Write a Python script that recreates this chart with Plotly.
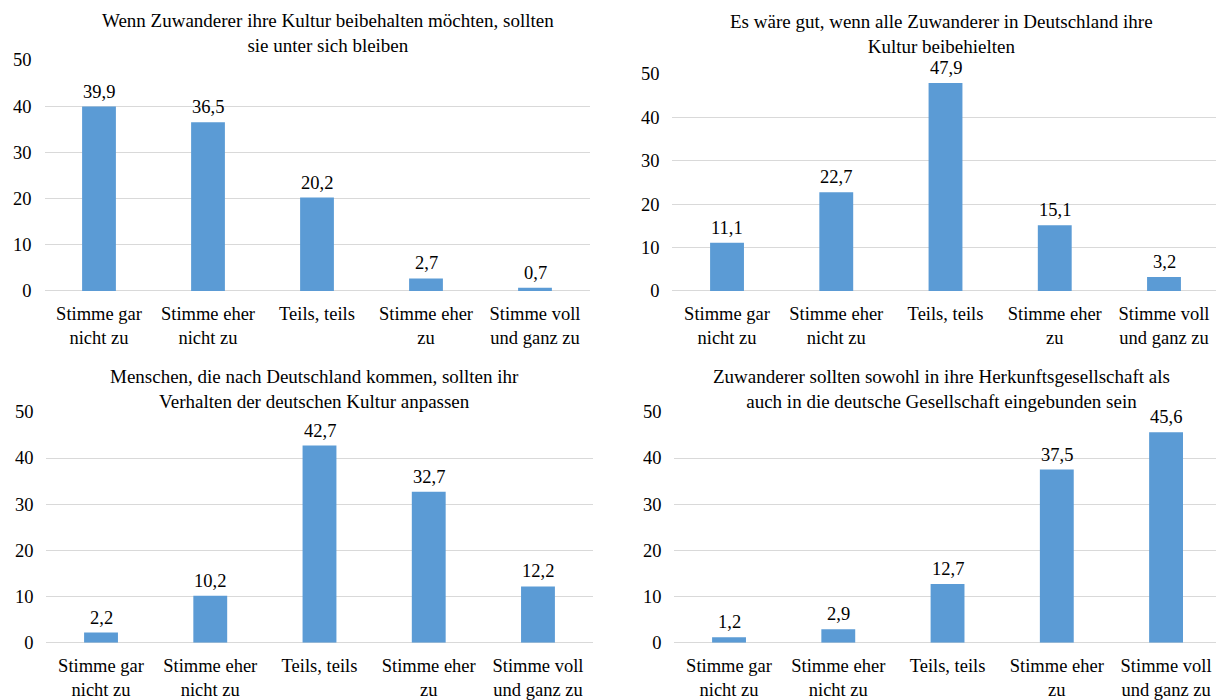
import plotly.graph_objects as go

# Antwortkategorien (x-Achse)
categories = [
    "Stimme gar<br>nicht zu",
    "Stimme eher<br>nicht zu",
    "Teils, teils",
    "Stimme eher<br>zu",
    "Stimme voll<br>und ganz zu",
]

# Aussagen (Diagrammtitel)
title_tl = "Wenn Zuwanderer ihre Kultur beibehalten möchten, sollten<br>sie unter sich bleiben"
title_tr = "Es wäre gut, wenn alle Zuwanderer in Deutschland ihre<br>Kultur beibehielten"
title_bl = "Menschen, die nach Deutschland kommen, sollten ihr<br>Verhalten der deutschen Kultur anpassen"
title_br = "Zuwanderer sollten sowohl in ihre Herkunftsgesellschaft als<br>auch in die deutsche Gesellschaft eingebunden sein"

# Anteile in Prozent
values_tl = [39.9, 36.5, 20.2, 2.7, 0.7]
values_tr = [11.1, 22.7, 47.9, 15.1, 3.2]
values_bl = [2.2, 10.2, 42.7, 32.7, 12.2]
values_br = [1.2, 2.9, 12.7, 37.5, 45.6]

y_ticks = [0, 10, 20, 30, 40, 50]

W, H = 1216, 700
FONT = "'Liberation Serif', 'Times New Roman', Times, serif"
BAR_COLOR = "#5B9BD5"
GRID = "#D9D9D9"
FS = 18.5
FS_TITLE = 19


def px_x(p):
    return p / W


def px_y(p):
    return 1 - p / H


panels = [
    # x-Bereich in px, y-Pixel von 0 und 50, Ende des x-Bereichs, Titelmitte in px
    dict(vals=values_tl, title=title_tl, xd=(44.5, 589.5), y0=291.3, y50=51.8, xend=4.5, tx=328, ty=24),
    dict(vals=values_tr, title=title_tr, xd=(672.4, 1216), y0=291.3, y50=66.2, xend=4.476, tx=941, ty=24.5),
    dict(vals=values_bl, title=title_bl, xd=(46.4, 592.6), y0=656.2, y50=416.7, xend=4.5, tx=314, ty=393),
    dict(vals=values_br, title=title_br, xd=(674.4, 1216), y0=656.2, y50=416.7, xend=4.457, tx=941, ty=393),
]

fig = go.Figure()
annotations = []

for i, p in enumerate(panels, start=1):
    xa = "x" if i == 1 else f"x{i}"
    ya = "y" if i == 1 else f"y{i}"
    fig.add_trace(
        go.Bar(
            x=categories,
            y=p["vals"],
            marker=dict(color=BAR_COLOR, line=dict(width=0)),
            xaxis=xa,
            yaxis=ya,
            hoverinfo="x+y",
            showlegend=False,
        )
    )
    axis_suffix = "" if i == 1 else str(i)
    fig.update_layout(
        **{
            f"xaxis{axis_suffix}": dict(
                domain=[px_x(p["xd"][0]), px_x(p["xd"][1])],
                anchor=ya,
                type="category",
                range=[-0.5, p["xend"]],
                showgrid=False,
                showline=False,
                zeroline=False,
                ticks="",
                ticklabelstandoff=10,
                tickfont=dict(family=FONT, size=FS, color="#000000"),
            ),
            f"yaxis{axis_suffix}": dict(
                domain=[px_y(p["y0"]), px_y(p["y50"])],
                anchor=xa,
                range=[0, 50],
                tickvals=y_ticks,
                showgrid=True,
                gridcolor=GRID,
                gridwidth=1,
                zeroline=True,
                zerolinecolor=GRID,
                zerolinewidth=1,
                showline=False,
                ticks="",
                ticklabelstandoff=12,
                tickfont=dict(family=FONT, size=FS, color="#000000"),
            ),
        }
    )
    # Wertbeschriftungen über den Balken
    for cat, v in zip(categories, p["vals"]):
        annotations.append(
            dict(
                x=cat,
                y=v,
                xref=xa,
                yref=ya,
                text=f"{v:.1f}".replace(".", ","),
                showarrow=False,
                yanchor="middle",
                yshift=15,
                font=dict(family=FONT, size=FS, color="#000000"),
            )
        )
    # Diagrammtitel
    annotations.append(
        dict(
            x=px_x(p["tx"]),
            y=px_y(p["ty"]),
            xref="paper",
            yref="paper",
            text=p["title"],
            showarrow=False,
            xanchor="center",
            yanchor="middle",
            align="center",
            font=dict(family=FONT, size=FS_TITLE, color="#000000"),
        )
    )

fig.update_layout(
    width=W,
    height=H,
    margin=dict(l=0, r=0, t=0, b=0),
    paper_bgcolor="white",
    plot_bgcolor="white",
    bargap=0.69,
    annotations=annotations,
    font=dict(family=FONT, size=FS, color="#000000"),
)

fig.write_html("out.html")
